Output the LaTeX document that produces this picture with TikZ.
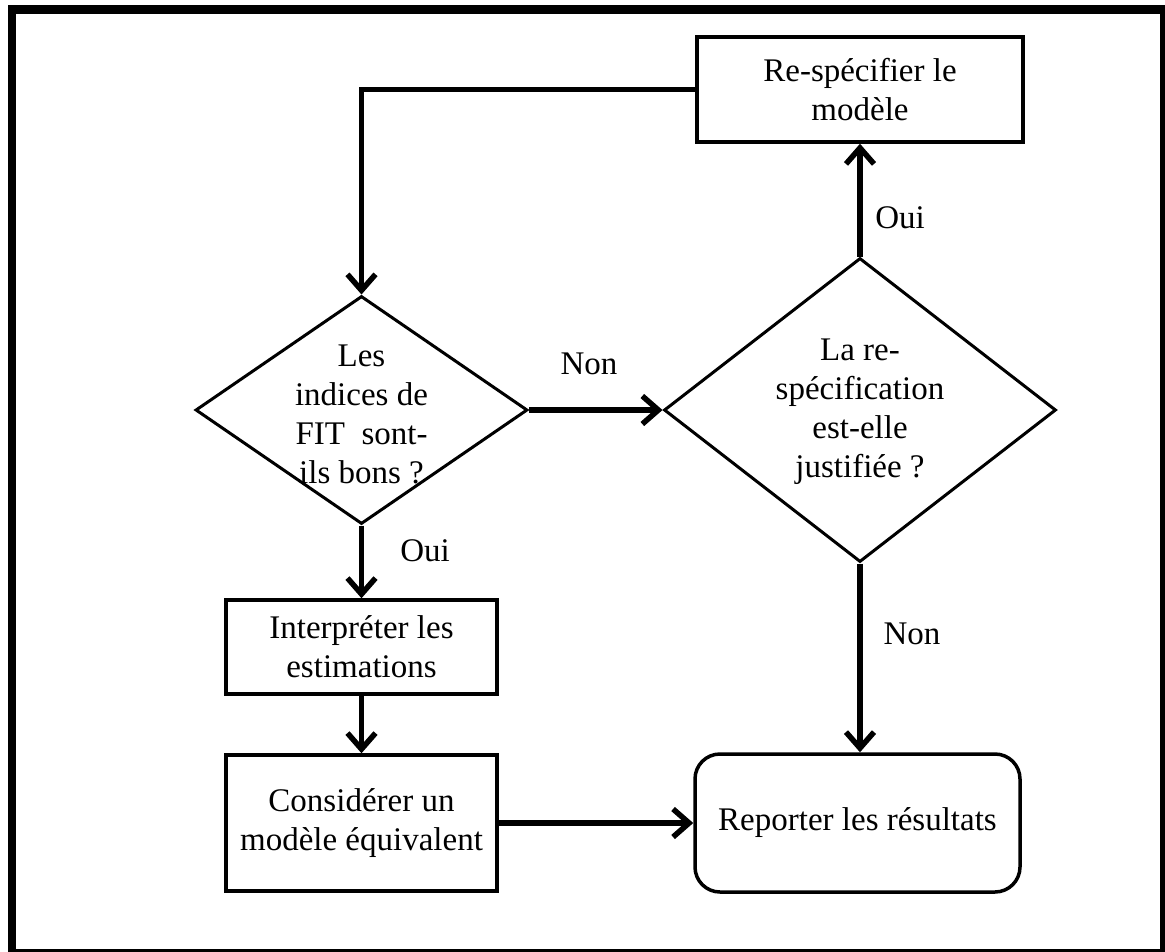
\documentclass[tikz,border=0pt]{standalone}
\usepackage{fontspec}
\setmainfont{Liberation Serif}
\usetikzlibrary{shapes.geometric,arrows.meta}
\begin{document}
\begin{tikzpicture}[x=1pt,y=-1pt,
  txt/.style={font=\fontsize{33}{39}\selectfont,align=center,inner sep=0pt},
  box/.style={draw,line width=3.5pt,txt},
  dia/.style={draw,diamond,line width=3pt,inner sep=0pt},
  arr/.style={line width=5.5pt,-{Straight Barb[length=16pt,width=28pt]}}]
\useasboundingbox (0,0) rectangle (1165,951);
\clip (0,0) rectangle (1165,951);
\draw[line width=8.5pt] (12,9.5) rectangle (1164,953);

\node[box,minimum width=326pt,minimum height=105pt] (rs) at (860,89.5) {Re-spécifier le\\modèle};
\node[dia,minimum width=332pt,minimum height=228pt] (d1) at (361.5,410) {};
\node[txt] (d1t) at (361.5,414) {Les\\indices de\\FIT\ \ sont-\\ils bons ?};
\node[dia,minimum width=392pt,minimum height=304pt] (d2) at (860,410) {};
\node[txt] (d2t) at (860,412) {La re-\\spécification\\est-elle\\justifiée ?};
\node[box,minimum width=271pt,minimum height=94pt] (int) at (361.5,647) {Interpréter les\\estimations};
\node[box,minimum width=271pt,minimum height=136pt] (cons) at (361.5,823) {Considérer un\\modèle équivalent};
\node[box,rounded corners=25pt,minimum width=325pt,minimum height=138pt] (rep) at (857.5,823) {Reporter les résultats};

\node[txt] (l1) at (589,364) {Non};
\node[txt] (l2) at (425,551) {Oui};
\node[txt] (l3) at (900,218) {Oui};
\node[txt] (l4) at (912,634) {Non};

\draw[arr] (rs.west) -| (d1.north);
\draw[arr] (d1.east) -- (d2.west);
\draw[arr] (d2.north) -- (d2.north |- rs.south);
\draw[arr] (d1.south) -- (int.north);
\draw[arr] (int.south) -- (cons.north);
\draw[arr] (cons.east) -- (rep.west);
\draw[arr] (d2.south) -- (d2.south |- rep.north);
\end{tikzpicture}
\end{document}
